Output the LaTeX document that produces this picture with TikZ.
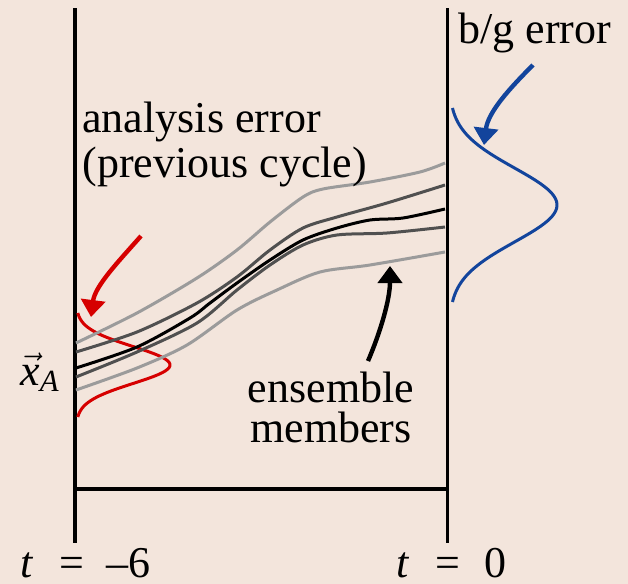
\documentclass[tikz,border=0pt]{standalone}
\usepackage{fontspec}
\setmainfont{Liberation Serif}
\usepackage{amsmath}
\usetikzlibrary{arrows.meta}

\definecolor{paper}{RGB}{243,229,220}
\definecolor{pdfred}{RGB}{214,0,0}
\definecolor{pdfblue}{RGB}{18,68,156}
\definecolor{lightmember}{RGB}{155,155,155}
\definecolor{darkmember}{RGB}{80,80,80}

\begin{document}
\begin{tikzpicture}[
  x=0.5pt, y=-0.5pt,
  frame/.style={line width=1.8pt},
  member/.style={line width=1.5pt},
  lbl/.style={inner sep=0pt,font=\fontsize{22}{22.5}\selectfont},
  pointer/.style={line width=2.2pt,-{Triangle[length=8.5pt,width=12pt]}},
  pdf/.style={line width=1.5pt}
]
  \fill[paper] (0,0) rectangle (628,584);
  \useasboundingbox (0,0) rectangle (628,584);
  % time axis
  \coordinate (mtop) at (75,8);
  \coordinate (mbot) at (75,543);
  \coordinate (ztop) at (447.5,8);
  \coordinate (zbot) at (447.5,543);
  \coordinate (mbar) at (75,489);
  \coordinate (zbar) at (447.5,489);
  \draw[frame] (mtop) -- (mbot);
  \draw[frame] (ztop) -- (zbot);
  \draw[frame] (mbar) -- (zbar);
  % error distributions
  \draw[pdf,pdfred] plot[domain=-52:52,samples=60,variable=\d]
    ({76+94*exp(-(\d*\d)/684)},{365+\d});
  \draw[pdf,pdfblue] plot[domain=-97:97,samples=80,variable=\d]
    ({449+108*exp(-(\d*\d)/2738)},{205+\d});
  % ensemble members
  \draw[member,lightmember] plot[smooth] coordinates {(76,343) (137,313) (197,278) (237,250)
    (270,222) (303,197) (323,189) (370,182) (420,172) (445,163)};
  \draw[member,darkmember] plot[smooth] coordinates {(76,352) (137,332) (197,303) (237,277)
    (270,250) (303,228) (337,217) (387,203) (445,185)};
  \draw[member,black] plot[smooth] coordinates {(76,368) (137,347) (190,318) (210,303)
    (237,283) (270,260) (303,240) (337,228) (370,220) (403,218) (445,209)};
  \draw[member,darkmember] plot[smooth] coordinates {(76,377) (137,352) (197,323) (237,290)
    (270,265) (303,245) (337,235) (387,233) (445,227)};
  \draw[member,lightmember] plot[smooth] coordinates {(76,390) (137,368) (187,345) (237,310)
    (277,290) (320,272) (370,265) (445,252)};
  % labels
  \node[lbl,anchor=base west] (tminus) at (20,577) {\textit{t}\hspace{0.6em}=\hspace{0.5em}–6};
  \node[lbl,anchor=base west] (tzero) at (396,577) {\textit{t}\hspace{0.6em}=\hspace{0.55em}0};
  \node[lbl,anchor=base west] (bgerr) at (458,43) {b/g error};
  \node[lbl,anchor=base west,align=left] (anaerr) at (82,177) {analysis error\\(previous cycle)};
  \node[lbl,anchor=base,align=center,font=\fontsize{22}{20}\selectfont] (members) at (331,442) {ensemble\\members};
  \node[lbl,anchor=base west] (xa) at (20,385) {$\vec{\text{\textit{x}}}_{\text{\textit{A}}}$};
  % pointers
  \coordinate (redtail) at (141,236);
  \coordinate (redtip) at (91,317);
  \coordinate (bluetail) at (533,65);
  \coordinate (bluetip) at (484,145);
  \coordinate (blacktail) at (368,361);
  \coordinate (blacktip) at (390,266);
  \draw[pointer,pdfred] (redtail) .. controls (118,262) and (95,286) .. (redtip);
  \draw[pointer,pdfblue] (bluetail) .. controls (510,88) and (488,112) .. (bluetip);
  \draw[pointer,black] (blacktail) .. controls (380,333) and (390,300) .. (blacktip);
\end{tikzpicture}
\end{document}
